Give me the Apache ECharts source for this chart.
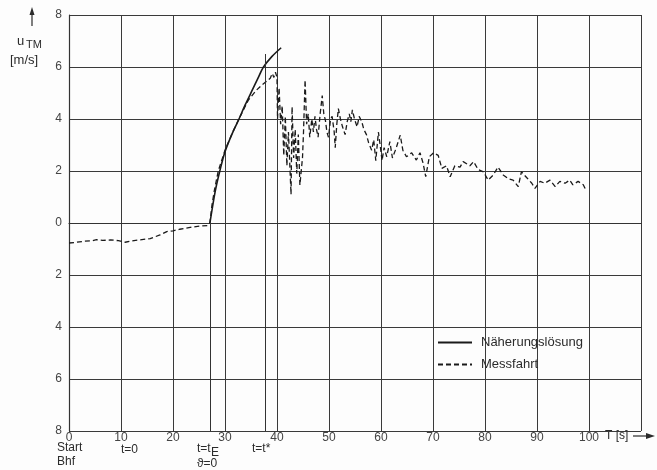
<!DOCTYPE html>
<html>
<head>
<meta charset="utf-8">
<script src="https://cdn.jsdelivr.net/npm/echarts@6/dist/echarts.min.js"></script>
<style>
  html, body { margin: 0; padding: 0; background: #fdfdfd; }
  #main { width: 657px; height: 470px; }
</style>
</head>
<body>
<div id="main"></div>
<script>
// x axis: Zeit T [s], y axis: u_TM [m/s]
const xTicks = [0, 10, 20, 30, 40, 50, 60, 70, 80, 90, 100];
const yTicks = [-8, -6, -4, -2, 0, 2, 4, 6, 8];

// Näherungslösung (durchgezogen)
const naeherungT = [27.1, 28.1, 29.0, 30.0, 31.3, 32.6, 33.9, 35.1, 36.3, 37.4, 39.0, 40.8];
const naeherungU = [0, 1.2, 2.0, 2.74, 3.4, 3.96, 4.55, 5.05, 5.55, 6.0, 6.4, 6.74];

// Messfahrt (gestrichelt)
const messT = [
  0, 1.5, 3, 4.5, 5.3, 6.5, 8, 9.5, 10.8, 12, 13.5, 15.6, 17.5, 18.8, 20, 21.3, 23.3, 25.2, 26.7,
  27.1, 27.5, 28.0, 28.7, 30, 31.5, 32.9, 34.5, 36, 37.1, 38, 38.7, 39.1, 39.4, 39.7, 40,
  40.1, 40.4, 40.7, 41, 41.3, 41.6, 41.9, 42.2, 42.7, 42.9, 43.2, 43.5, 43.8, 44.1, 44.4, 44.9,
  45.1, 45.4, 45.7, 46, 46.3, 46.7, 47, 47.3, 47.6, 47.9, 48.3, 48.7, 49, 49.3, 49.6, 49.9,
  50.3, 50.6, 51, 51.2, 51.5, 51.8, 52.2, 52.6, 53.1, 53.5, 53.9, 54.2, 54.5, 54.9, 55.4, 55.8,
  56.3, 56.7, 57.2, 57.6, 58.2, 58.6, 59, 59.5, 59.9, 60.2, 60.6, 61.1, 61.7, 62.2, 62.9, 63.7,
  64.2, 64.9, 65.9, 66.8, 67.5, 68.1, 68.6, 69.3, 70.1, 71, 71.7, 72.6, 73.3, 74.2, 75.2, 75.8,
  77.1, 77.8, 78.7, 79.7, 80.6, 81.6, 82.5, 83.5, 84.5, 85.4, 86.4, 87, 88, 89, 89.6, 90.6,
  91.5, 92.5, 93.5, 94.4, 95.4, 96.3, 96.9, 97.9, 98.9, 99.4
];
const messU = [
  -0.77, -0.74, -0.7, -0.68, -0.64, -0.67, -0.65, -0.68, -0.74, -0.69, -0.65, -0.6, -0.46, -0.33, -0.3, -0.24, -0.17, -0.12, -0.1,
  0, 0.7, 1.3, 2.0, 2.8, 3.5, 4.09, 4.73, 5.1, 5.31, 5.45, 5.57, 5.75, 5.6, 5.8, 5.6,
  4.0, 5.2, 3.8, 4.5, 2.6, 4.1, 2.2, 3.5, 1.1, 4.47, 2.5, 3.6, 1.9, 3.4, 1.46, 2.5,
  3.5, 5.5, 3.8, 4.2, 3.3, 4.0, 3.5, 4.1, 3.6, 3.3, 4.2, 4.9, 4.2, 3.96, 3.5, 3.3,
  4.0, 4.1, 3.5, 2.9, 3.8, 4.4, 4.0, 3.7, 3.4, 3.9, 4.2, 3.9, 4.35, 4.0, 3.7, 4.1,
  3.9, 3.6, 3.4, 3.1, 2.8, 3.2, 2.4, 3.5, 2.9, 2.4, 2.9, 2.55, 3.13, 2.5, 2.87, 3.38,
  2.8, 2.55, 2.7, 2.42, 2.7, 2.3, 1.78, 2.55, 2.7, 2.6, 2.1, 2.2, 1.78, 2.2, 2.15, 2.36,
  2.2, 2.36, 2.05, 1.97, 1.65, 1.85, 2.15, 1.85, 1.7, 1.65, 1.4, 1.97, 1.75, 1.53, 1.33, 1.6,
  1.53, 1.65, 1.4, 1.6, 1.53, 1.65, 1.47, 1.6, 1.47, 1.27
];

// markante Zeitpunkte
const tStart = 12.3;   // t=0
const tE = 27.1;       // t=t_E
const tStern = 37.8;   // t=t*

const font = "Liberation Sans, Arial, sans-serif";
const ink = "#2b2b2b";

function pairs(xs, ys) {
  return xs.map((x, i) => [x, ys[i]]);
}

const chart = echarts.init(document.getElementById("main"));

const option = {
  backgroundColor: "#fdfdfd",
  animation: false,
  textStyle: { fontFamily: font, color: ink },
  grid: { left: 69, top: 15, width: 572, height: 416, containLabel: false },
  legend: {
    orient: "vertical",
    left: 432,
    top: 331,
    itemWidth: 34,
    itemHeight: 10,
    itemGap: 9,
    itemStyle: { opacity: 0 },
    textStyle: { fontSize: 13, color: ink, fontFamily: font, padding: [0, 0, 0, 4] },
    data: ["Näherungslösung", "Messfahrt"]
  },
  xAxis: {
    type: "value",
    min: 0,
    max: 110,
    interval: 10,
    axisLine: { show: true, lineStyle: { color: "#333", width: 1.2 } },
    axisTick: { show: false },
    axisLabel: {
      margin: 1,
      fontSize: 12,
      color: "#444",
      formatter: function (v) {
        return xTicks.indexOf(v) >= 0 ? String(v) : "";
      }
    },
    splitLine: { show: true, lineStyle: { color: "#3a3a3a", width: 1 } }
  },
  yAxis: {
    type: "value",
    min: yTicks[0],
    max: yTicks[yTicks.length - 1],
    interval: 2,
    axisLine: { show: true, lineStyle: { color: "#333", width: 1.2 } },
    axisTick: { show: false },
    axisLabel: {
      margin: 7,
      fontSize: 12,
      color: "#444",
      formatter: function (v) {
        return String(Math.abs(v));
      }
    },
    splitLine: { show: true, lineStyle: { color: "#3a3a3a", width: 1 } }
  },
  series: [
    {
      name: "Näherungslösung",
      type: "line",
      smooth: 0.3,
      symbol: "none",
      data: pairs(naeherungT, naeherungU),
      lineStyle: { color: "#1a1a1a", width: 1.6 },
      itemStyle: { color: "#1a1a1a" },
      markLine: {
        silent: true,
        symbol: ["none", "none"],
        label: { show: false },
        lineStyle: { color: "#333", type: "solid", width: 1 },
        data: [
          [{ coord: [tE, 0] }, { coord: [tE, -8] }],
          [{ coord: [tStern, 6.5] }, { coord: [tStern, -8] }],
          [{ coord: [tStart, -8.15] }, { coord: [tStart, -7.7] }]
        ]
      }
    },
    {
      name: "Messfahrt",
      type: "line",
      symbol: "none",
      data: pairs(messT, messU),
      lineStyle: { color: "#1a1a1a", width: 1.3, type: [5, 3] },
      itemStyle: { color: "#1a1a1a" }
    }
  ],
  graphic: [
    // Achsbeschriftung y
    { type: "line", shape: { x1: 32, y1: 12, x2: 32, y2: 26 }, style: { stroke: ink, lineWidth: 1.2 } },
    { type: "polygon", shape: { points: [[32, 7], [29.5, 15], [34.5, 15]] }, style: { fill: ink } },
    { type: "text", x: 17, y: 35, style: { text: "u", font: "13px " + font, fill: ink } },
    { type: "text", x: 26, y: 39, style: { text: "TM", font: "11px " + font, fill: ink } },
    { type: "text", x: 10, y: 54, style: { text: "[m/s]", font: "13px " + font, fill: ink } },
    // Achsbeschriftung x
    { type: "text", x: 605, y: 430, style: { text: "T [s]", font: "12px " + font, fill: ink } },
    { type: "line", shape: { x1: 633, y1: 436, x2: 648, y2: 436 }, style: { stroke: ink, lineWidth: 1.2 } },
    { type: "polygon", shape: { points: [[655, 436], [646, 433], [646, 439]] }, style: { fill: ink } },
    // Zeitpunkte
    { type: "text", x: 57, y: 442, style: { text: "Start", font: "12px " + font, fill: ink } },
    { type: "text", x: 57, y: 456, style: { text: "Bhf", font: "12px " + font, fill: ink } },
    { type: "text", x: 121, y: 444, style: { text: "t=0", font: "12px " + font, fill: ink } },
    { type: "text", x: 197, y: 443, style: { text: "t=t", font: "12px " + font, fill: ink } },
    { type: "text", x: 211, y: 447, style: { text: "E", font: "12px " + font, fill: ink } },
    { type: "text", x: 197, y: 458, style: { text: "ϑ=0", font: "12px " + font, fill: ink } },
    { type: "text", x: 252, y: 443, style: { text: "t=t*", font: "12px " + font, fill: ink } }
  ]
};

chart.setOption(option);
</script>
</body>
</html>
